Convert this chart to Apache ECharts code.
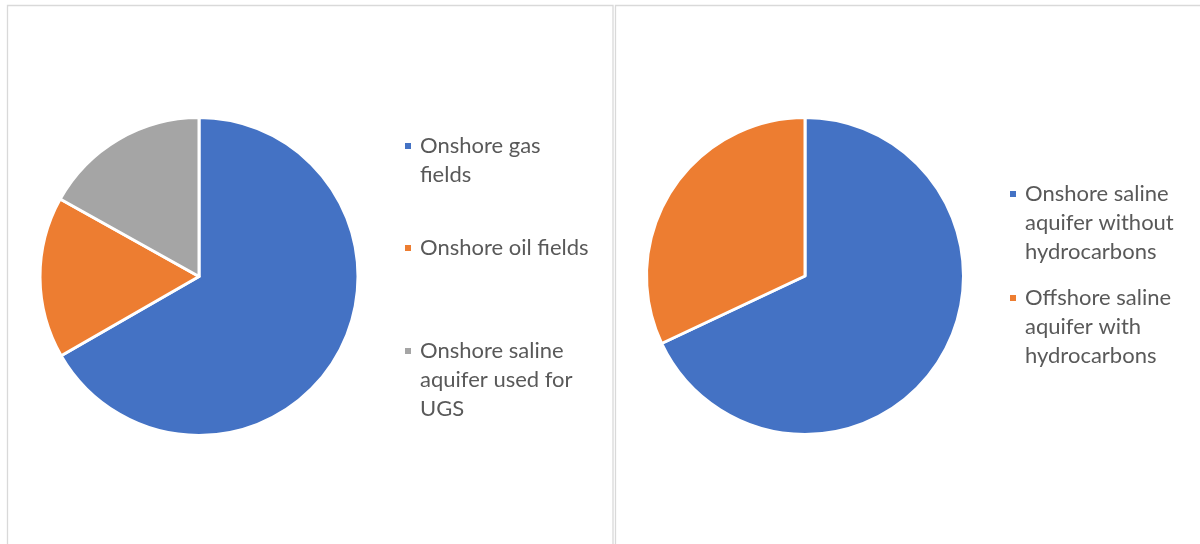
<!DOCTYPE html>
<html>
<head>
<meta charset="utf-8">
<script src="https://cdn.jsdelivr.net/npm/echarts@6/dist/echarts.min.js"></script>
<style>
html,body{margin:0;padding:0;background:#fff;}
#chart{width:1200px;height:544px;}
</style>
</head>
<body>
<div id="chart"></div>
<script>
// Left pie
const leftCategories = ['Onshore gas fields', 'Onshore oil fields', 'Onshore saline aquifer used for UGS'];
const leftLabels = ['Onshore gas\nfields', 'Onshore oil fields', 'Onshore saline\naquifer used for\nUGS'];
const leftValues = [66.7, 16.4, 16.9];
// Right pie
const rightCategories = ['Onshore saline aquifer without hydrocarbons', 'Offshore saline aquifer with hydrocarbons'];
const rightLabels = ['Onshore saline\naquifer without\nhydrocarbons', 'Offshore saline\naquifer with\nhydrocarbons'];
const rightValues = [68, 32];

const leftColors = ['#4472C4', '#ED7D31', '#A5A5A5'];
const rightColors = ['#4472C4', '#ED7D31'];

const LH = 29;
const FONT = 'Lato';
const FS = 22;

function makeLegend(name, label, color, left, yc) {
  const n = label.split('\n').length;
  // leading blank lines keep the marker level with the first text line
  const shown = '\n'.repeat(n - 1) + label;
  return {
    data: [{ name: name, itemStyle: { color: color } }],
    left: left,
    top: yc - (2 * n - 1) * LH / 2,
    orient: 'vertical',
    padding: 0,
    itemWidth: 8,
    itemHeight: 8,
    icon: 'rect',
    selectedMode: false,
    formatter: function () { return shown; },
    textStyle: {
      fontFamily: FONT,
      fontSize: FS,
      color: '#595959',
      lineHeight: LH,
      padding: [0, 0, 0, 3]
    }
  };
}

const leftY = [146, 248, 351];
const rightY = [194, 298];
const legends = [];
leftCategories.forEach((c, i) => legends.push(makeLegend(c, leftLabels[i], leftColors[i], 403, leftY[i])));
rightCategories.forEach((c, i) => legends.push(makeLegend(c, rightLabels[i], rightColors[i], 1008, rightY[i])));

const chart = echarts.init(document.getElementById('chart'), null, { renderer: 'canvas' });
chart.setOption({
  backgroundColor: '#ffffff',
  animation: false,
  graphic: [
    { type: 'rect', shape: { x: 7.5, y: 5.5, width: 605.5, height: 600 }, style: { fill: 'none', stroke: '#d9d9d9', lineWidth: 1.3 }, silent: true },
    { type: 'rect', shape: { x: 615.5, y: 5.5, width: 620, height: 600 }, style: { fill: 'none', stroke: '#d9d9d9', lineWidth: 1.3 }, silent: true }
  ],
  legend: legends,
  series: [
    {
      type: 'pie',
      center: [199, 276.5],
      radius: 159,
      startAngle: 90,
      clockwise: true,
      label: { show: false },
      labelLine: { show: false },
      emphasis: { disabled: true },
      itemStyle: { borderColor: '#ffffff', borderWidth: 3 },
      data: leftCategories.map((c, i) => ({ name: c, value: leftValues[i], itemStyle: { color: leftColors[i] } }))
    },
    {
      type: 'pie',
      center: [805, 276],
      radius: 158.5,
      startAngle: 90,
      clockwise: true,
      label: { show: false },
      labelLine: { show: false },
      emphasis: { disabled: true },
      itemStyle: { borderColor: '#ffffff', borderWidth: 3 },
      data: rightCategories.map((c, i) => ({ name: c, value: rightValues[i], itemStyle: { color: rightColors[i] } }))
    }
  ]
});
</script>
</body>
</html>
